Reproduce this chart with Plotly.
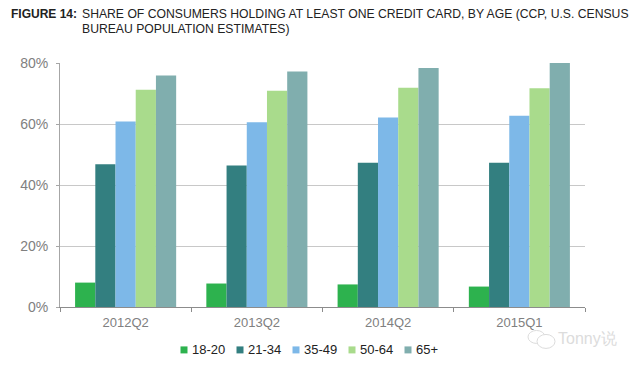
import plotly.graph_objects as go

quarters = ["2012Q2", "2013Q2", "2014Q2", "2015Q1"]
age_18_20 = [8.0, 7.7, 7.4, 6.7]
age_21_34 = [46.8, 46.4, 47.3, 47.3]
age_35_49 = [60.8, 60.6, 62.1, 62.7]
age_50_64 = [71.2, 70.9, 71.9, 71.7]
age_65_up = [75.9, 77.2, 78.4, 80.0]
tick_vals = [0, 20, 40, 60, 80]
tick_text = ["0%", "20%", "40%", "60%", "80%"]

series = [
    ("18-20", age_18_20, "#2DB24E"),
    ("21-34", age_21_34, "#337F80"),
    ("35-49", age_35_49, "#7DB8E8"),
    ("50-64", age_50_64, "#A9DB8C"),
    ("65+", age_65_up, "#80AEAE"),
]

FONT = "Liberation Sans, Arial, sans-serif"
OFF = 8  # the page's own margin
W, H = 632, 353
L, R, T, B = 60 - OFF, 585 - OFF, 63 - OFF, 307.5 - OFF


def px(x):
    return (x - OFF - L) / (R - L)


def py(y):
    return (B - (y - OFF)) / (B - T)


fig = go.Figure()
for name, vals, col in series:
    fig.add_trace(go.Bar(name=name, x=quarters, y=vals, showlegend=False,
                         marker=dict(color=col, line=dict(width=0))))

annotations = [
    dict(text="<b>FIGURE 14:</b>", x=px(9.5), y=py(14), xanchor="left", yanchor="middle",
         font=dict(size=12, color="#222222")),
    dict(text="SHARE OF CONSUMERS HOLDING AT LEAST ONE CREDIT CARD, BY AGE (CCP, U.S. CENSUS",
         x=px(81), y=py(14), xanchor="left", yanchor="middle",
         font=dict(size=12.2, color="#222222")),
    dict(text="BUREAU POPULATION ESTIMATES)", x=px(81), y=py(28.5), xanchor="left",
         yanchor="middle", font=dict(size=12.2, color="#222222")),
    dict(text="Tonny说", x=px(557), y=py(339), xanchor="left", yanchor="middle",
         font=dict(size=16, color="#dcdcdc")),
]
shapes = [
    dict(type="circle", xref="paper", yref="paper", x0=px(528), x1=px(545), y0=py(344), y1=py(331),
         line=dict(color="#dcdcdc", width=1)),
    dict(type="circle", xref="paper", yref="paper", x0=px(537), x1=px(555), y0=py(349), y1=py(335),
         line=dict(color="#dcdcdc", width=1), fillcolor="white"),
]
# key, spaced as in the reference
for i, (name, vals, col) in enumerate(series):
    x0 = 180.5 + 56 * i
    shapes.append(dict(type="rect", xref="paper", yref="paper", x0=px(x0), x1=px(x0 + 7),
                       y0=py(354), y1=py(347), fillcolor=col, line=dict(width=0)))
    annotations.append(dict(text=name, x=px(x0 + 10.5), y=py(350.5), xanchor="left",
                            yanchor="middle", font=dict(size=13, color="#222222")))
for a in annotations:
    a.update(xref="paper", yref="paper", showarrow=False, xshift=-1)

fig.update_layout(
    width=W, height=H, autosize=False,
    margin=dict(l=L, r=W - R, t=T, b=H - B),
    paper_bgcolor="white", plot_bgcolor="white",
    barmode="group", bargap=0.23, bargroupgap=0,
    font=dict(family=FONT),
    showlegend=False,
    xaxis=dict(showline=True, linecolor="#8c8c8c", linewidth=1, ticks="outside",
               tickson="boundaries", ticklen=4, tickcolor="#8c8c8c", ticklabelstandoff=3,
               tickfont=dict(size=13, color="#808080"), showgrid=False),
    yaxis=dict(range=[0, 80], tickvals=tick_vals, ticktext=tick_text, showline=True,
               linecolor="#a6a6a6", linewidth=1, ticks="outside", ticklen=3, tickcolor="#a6a6a6",
               ticklabelstandoff=5, tickfont=dict(size=14, color="#808080"),
               showgrid=True, gridcolor="#c8c8c8", gridwidth=1, zeroline=False),
    annotations=annotations,
    shapes=shapes,
)
fig.write_html("out.html")
